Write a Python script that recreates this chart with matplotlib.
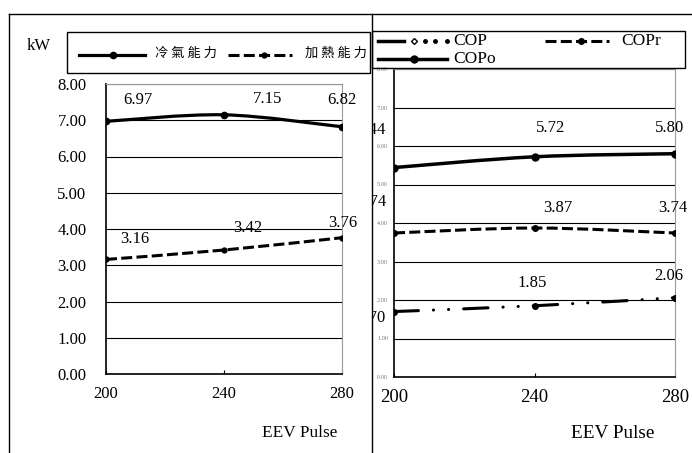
import matplotlib.pyplot as plt
from matplotlib.path import Path
from matplotlib.patches import PathPatch, Rectangle
from matplotlib.lines import Line2D
from matplotlib.transforms import Bbox, TransformedBbox

# data
pulse = [200, 240, 280]
cooling = [6.97, 7.15, 6.82]   # 冷氣能力 kW
heating = [3.16, 3.42, 3.76]   # 加熱能力 kW
cop = [1.70, 1.85, 2.06]
copr = [3.74, 3.87, 3.74]
copo = [5.44, 5.72, 5.80]
yticks = [0, 1, 2, 3, 4, 5, 6, 7, 8]

# label offsets (pixels) relative to each point
cooling_off = [(32, 21), (44, 16), (0, 27)]
heating_off = [(29, 20), (24, 22), (1, 15)]
copo_off = [(-22, 38), (16, 29), (-5, 26)]
copr_off = [(-22, 31), (23, 20), (-2, 25)]
cop_off = [(-23, -6), (-2, 23), (-6, 22)]

W, H = 692, 453
plt.rcParams['font.family'] = ['Liberation Serif', 'DejaVu Serif']
CJK = ['Noto Sans CJK TC', 'DejaVu Sans']


def fx(x):
    return x / W


def fy(y):
    return 1 - y / H


def smooth_path(xs, ys):
    # Excel-like smoothed line: Catmull-Rom segments as cubic Bezier
    pts = list(zip(xs, ys))
    n = len(pts)
    verts = [pts[0]]
    codes = [Path.MOVETO]
    for i in range(n - 1):
        p0 = pts[max(i - 1, 0)]
        p1 = pts[i]
        p2 = pts[i + 1]
        p3 = pts[min(i + 2, n - 1)]
        c1 = (p1[0] + (p2[0] - p0[0]) / 6, p1[1] + (p2[1] - p0[1]) / 6)
        c2 = (p2[0] - (p3[0] - p1[0]) / 6, p2[1] - (p3[1] - p1[1]) / 6)
        verts += [c1, c2, p2]
        codes += [Path.CURVE4] * 3
    return Path(verts, codes)


def draw_series(ax, ys, ls, lw, ms, cap='butt'):
    ax.add_patch(PathPatch(smooth_path(pulse, ys), fill=False, edgecolor='black',
                           lw=lw, ls=ls, capstyle=cap, zorder=3))
    ax.plot(pulse, ys, 'o', color='black', ms=ms, zorder=4)


def labels(ax, ys, offs, fs=12, clip=None):
    for x, y, o in zip(pulse, ys, offs):
        t = ax.annotate(f'{y:.2f}', (x, y), xytext=o, textcoords='offset pixels',
                        ha='center', va='center', fontsize=fs, annotation_clip=False)
        if clip is not None:
            t.set_clip_box(clip)
            t.set_clip_on(True)


def setup(ax, ylab_fs, ylab_color, ypad, xlab_fs, xpad):
    ax.set_xlim(200, 280)
    ax.set_ylim(0, 8)
    ax.set_xticks(pulse)
    ax.set_yticks(yticks)
    ax.set_yticklabels([f'{v:.2f}' for v in yticks])
    ax.grid(axis='y', color='black', lw=0.8)
    ax.set_axisbelow(True)
    ax.tick_params(axis='y', length=0, pad=ypad, labelsize=ylab_fs, labelcolor=ylab_color)
    ax.tick_params(axis='x', direction='in', length=3, width=0.8, pad=xpad, labelsize=xlab_fs)
    for s in ['top', 'right']:
        ax.spines[s].set_color('#999999')
        ax.spines[s].set_linewidth(0.8)
    for s in ['left', 'bottom']:
        ax.spines[s].set_color('black')
        ax.spines[s].set_linewidth(1.2)


fig = plt.figure(figsize=(W / 100, H / 100), dpi=100)

# left chart: capacity
ax1 = fig.add_axes([fx(106), fy(374), (342 - 106) / W, (374 - 84) / H])
setup(ax1, 12, 'black', 14, 12, 9)
draw_series(ax1, cooling, '-', 2.3, 4.5)
draw_series(ax1, heating, (0, (3.6, 1.4)), 2.2, 3.5)
labels(ax1, cooling, cooling_off)
labels(ax1, heating, heating_off)

# right chart: COP
ax2 = fig.add_axes([fx(394), fy(377), (675 - 394) / W, (377 - 69) / H])
setup(ax2, 4.5, '#777777', 4.3, 13.5, 8.6)
clip = TransformedBbox(Bbox.from_extents(fx(372), 0, 1, 1), fig.transFigure)
draw_series(ax2, copo, '-', 2.5, 5)
draw_series(ax2, copr, (0, (3.6, 1.4)), 2.2, 4)
draw_series(ax2, cop, (0, (8, 4.9, 0.05, 4.9, 0.05, 4.9)), 2.2, 4, cap='round')
labels(ax2, copo, copo_off, clip=clip)
labels(ax2, copr, copr_off, clip=clip)
labels(ax2, cop, cop_off, clip=clip)

# axis titles
fig.text(fx(300), fy(433), 'EEV Pulse', ha='center', va='center', fontsize=12.4)
fig.text(fx(613), fy(434), 'EEV Pulse', ha='center', va='center', fontsize=13.9)
fig.text(fx(39), fy(46), 'kW', ha='center', va='center', fontsize=12)

# panel frames
tf = fig.transFigure
fig.add_artist(Line2D([fx(9), 1], [fy(14), fy(14)], color='black', lw=1, transform=tf))
fig.add_artist(Line2D([fx(9), fx(9)], [fy(14), 0], color='black', lw=1, transform=tf))
fig.add_artist(Line2D([fx(372), fx(372)], [fy(14), 0], color='black', lw=1, transform=tf))

# left legend
fig.add_artist(Rectangle((fx(67), fy(73)), (370 - 67) / W, (73 - 32) / H, fill=False,
                         edgecolor='black', lw=1, transform=tf))
fig.add_artist(Line2D([fx(79), fx(145)], [fy(55)] * 2, color='black', lw=2.3, transform=tf))
fig.add_artist(Line2D([fx(113)], [fy(55)], marker='o', ms=4.5, color='black', transform=tf))
fig.text(fx(155), fy(53), '冷 氣 能 力', ha='left', va='center', fontsize=9.5, family=CJK)
fig.add_artist(Line2D([fx(228), fx(292)], [fy(55)] * 2, color='black', lw=2.2,
                      ls=(0, (3.6, 1.4)), transform=tf))
fig.add_artist(Line2D([fx(264)], [fy(55)], marker='o', ms=3.5, color='black', transform=tf))
fig.text(fx(305), fy(53), '加 熱 能 力', ha='left', va='center', fontsize=9.5, family=CJK)

# right legend
fig.add_artist(Rectangle((fx(372), fy(68)), (685 - 372) / W, (68 - 31) / H, fill=False,
                         edgecolor='black', lw=1, transform=tf))
fig.add_artist(Line2D([fx(378), fx(404)], [fy(41)] * 2, color='black', lw=2.5, transform=tf))
fig.add_artist(Line2D([fx(414)], [fy(41)], marker='D', ms=3, mfc='white', mec='black',
                      mew=1, color='black', transform=tf))
fig.add_artist(Line2D([fx(425), fx(435), fx(447)], [fy(41)] * 3, ls='none', marker='o',
                      ms=2.5, color='black', transform=tf))
fig.text(fx(453), fy(41), 'COP', ha='left', va='center', fontsize=12.5)
fig.add_artist(Line2D([fx(545), fx(609)], [fy(41)] * 2, color='black', lw=2.2,
                      ls=(0, (3.6, 1.4)), transform=tf))
fig.add_artist(Line2D([fx(581)], [fy(41)], marker='o', ms=4, color='black', transform=tf))
fig.text(fx(621), fy(41), 'COPr', ha='left', va='center', fontsize=12.5)
fig.add_artist(Line2D([fx(378), fx(447)], [fy(59)] * 2, color='black', lw=2.5, transform=tf))
fig.add_artist(Line2D([fx(414)], [fy(59)], marker='o', ms=5, color='black', transform=tf))
fig.text(fx(453), fy(59), 'COPo', ha='left', va='center', fontsize=12.5)

fig.savefig('out.png', dpi=100)
